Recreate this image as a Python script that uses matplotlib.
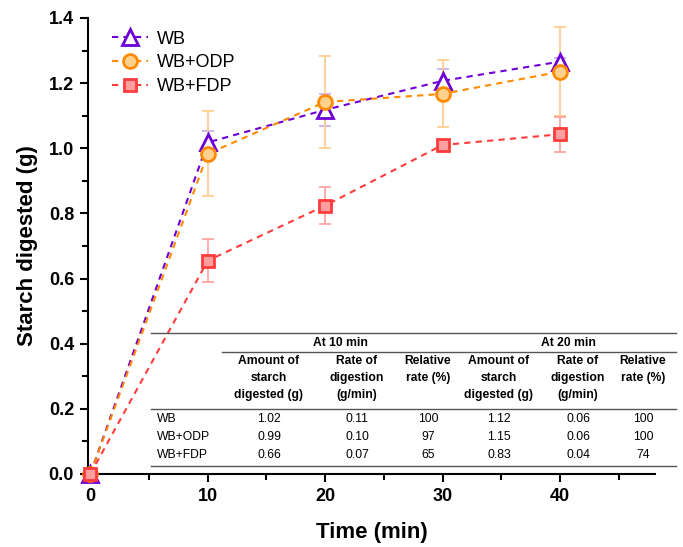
import matplotlib
matplotlib.use("Agg")
import matplotlib.pyplot as plt
from matplotlib.lines import Line2D
from matplotlib.ticker import MultipleLocator

plt.rcParams['font.family'] = ['Liberation Sans', 'DejaVu Sans']

# ---- data ----
time = [0, 10, 20, 30, 40]
wb = [0.0, 1.018, 1.118, 1.207, 1.266]
wb_err = [0.0, 0.035, 0.05, 0.035, 0.01]
odp = [0.0, 0.983, 1.142, 1.167, 1.235]
odp_err = [0.0, 0.13, 0.14, 0.103, 0.137]
fdp = [0.0, 0.655, 0.824, 1.010, 1.043]
fdp_err = [0.0, 0.067, 0.057, 0.01, 0.054]

series_names = ['WB', 'WB+ODP', 'WB+FDP']

table_groups = ['At 10 min', 'At 20 min']
table_headers = ['Amount of\nstarch\ndigested (g)', 'Rate of\ndigestion\n(g/min)', 'Relative\nrate (%)',
                 'Amount of\nstarch\ndigested (g)', 'Rate of\ndigestion\n(g/min)', 'Relative\nrate (%)']
table_rows = ['WB', 'WB+ODP', 'WB+FDP']
table_values = [
    ['1.02', '0.11', '100', '1.12', '0.06', '100'],
    ['0.99', '0.10', '97', '1.15', '0.06', '100'],
    ['0.66', '0.07', '65', '0.83', '0.04', '74'],
]

W, H = 683, 547
fig = plt.figure(figsize=(W / 100, H / 100), dpi=100)
ax = fig.add_axes([88 / W, 1 - 474 / H, (655 - 88) / W, (474 - 18) / H])

def fx(x):
    return x / W

def fy(y):
    return 1 - y / H

styles = [
    dict(color='#6E00D6', ecolor='#C9A8F0', marker='^', mfc='white', mec='#6E00D6', ms=11),
    dict(color='#FF8A00', ecolor='#FFCB8A', marker='o', mfc='#FFD18F', mec='#FF8A00', ms=10),
    dict(color='#FF3C3C', ecolor='#FF9C9C', marker='s', mfc='#FF9E9E', mec='#FF3C3C', ms=9),
]
datas = [(wb, wb_err), (odp, odp_err), (fdp, fdp_err)]

for (vals, errs), st in zip(datas, styles):
    ax.errorbar(time, vals, yerr=errs, fmt='none', ecolor=st['ecolor'], elinewidth=1.2,
                capsize=4, capthick=1.2, zorder=2, clip_on=False)

handles = []
for (vals, errs), st, name in zip(datas, styles, series_names):
    ln, = ax.plot(time, vals, linestyle=(0, (3, 2.5)), lw=1.5, color=st['color'],
                  marker=st['marker'], ms=st['ms'], mfc=st['mfc'], mec=st['mec'], mew=2,
                  zorder=3, clip_on=False, label=name)
    handles.append(ln)

ax.set_xlim(-0.2, 48.1)
ax.set_ylim(0, 1.4)
ax.xaxis.set_major_locator(MultipleLocator(10))
ax.xaxis.set_minor_locator(MultipleLocator(5))
ax.yaxis.set_minor_locator(MultipleLocator(0.1))
ax.set_yticks([0.0, 0.2, 0.4, 0.6, 0.8, 1.0, 1.2, 1.4])
ax.set_yticklabels(['0.0', '0.2', '0.4', '0.6', '0.8', '1.0', '1.2', '1.4'])
for s in ['top', 'right']:
    ax.spines[s].set_visible(False)
for s in ['left', 'bottom']:
    ax.spines[s].set_linewidth(1.5)
ax.tick_params(which='major', direction='out', length=6, width=1.5, labelsize=13, pad=4)
ax.tick_params(which='minor', direction='out', length=4, width=1.5)
for lab in ax.get_xticklabels() + ax.get_yticklabels():
    lab.set_fontweight('bold')

ax.set_xlabel('Time (min)', fontsize=16, fontweight='bold', labelpad=12)
ax.set_ylabel('Starch digested (g)', fontsize=16, fontweight='bold', labelpad=8)

leg = ax.legend(handles=handles, loc='upper left', bbox_to_anchor=(0.014, 1.008), frameon=False,
                fontsize=13, handlelength=2.0, handletextpad=0.45, labelspacing=0.38)

# ---- inset table ----
line_kw = dict(color='#555555', lw=1.0, transform=fig.transFigure)
for y, x0 in [(333, 151), (352, 222), (409, 151), (466, 151)]:
    fig.add_artist(Line2D([fx(x0), fx(676)], [fy(y), fy(y)], **line_kw))

group_x = [340, 568]
for g, gx in zip(table_groups, group_x):
    fig.text(fx(gx), fy(342.5), g, ha='center', va='center', fontsize=8.7, fontweight='bold')

col_x = [269, 357, 428, 499, 578, 643]
for h, cx in zip(table_headers, col_x):
    fig.text(fx(cx), fy(355), h, ha='center', va='top', fontsize=8.7, fontweight='bold',
             linespacing=1.55)

row_y = [418.5, 437, 455.5]
for r, ry, vals in zip(table_rows, row_y, table_values):
    fig.text(fx(157), fy(ry), r, ha='left', va='center', fontsize=8.7)
    for v, cx in zip(vals, col_x):
        fig.text(fx(cx), fy(ry), v, ha='center', va='center', fontsize=8.7)

fig.savefig('out.png', dpi=100)
